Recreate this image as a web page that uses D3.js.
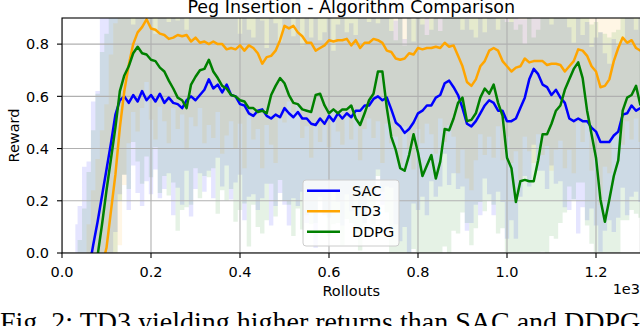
<!DOCTYPE html>
<html>
<head>
  <title>Peg Insertion - Algorithm Comparison</title>
  <script src="https://d3js.org/d3.v7.min.js"></script>
  <style>
    body { margin: 0; background: #fff; overflow: hidden; }
    svg { display: block; }
    .tick-label { font: 14.5px "DejaVu Sans", sans-serif; fill: #000; }
    .axis-label { font: 14.5px "DejaVu Sans", sans-serif; fill: #000; }
    .title { font: 17.5px "DejaVu Sans", sans-serif; fill: #000; }
    .caption { font: 28px "Liberation Serif", "Times New Roman", serif; fill: #000; }
  </style>
</head>
<body>
  <svg id="chart" width="640" height="326"></svg>

  <script>
    // rollouts at which the smoothed reward was sampled (every 10 rollouts)
    const rollouts = d3.range(30, 1301, 10);

    // mean reward per algorithm
    const sacMean = [
      -0.35,-0.26,-0.17,-0.07,0.03,0.12,0.22,0.32,0.42,0.53,
      0.585,0.60,0.575,0.605,0.58,0.62,0.585,0.605,0.58,0.61,
      0.575,0.595,0.575,0.57,0.555,0.585,0.60,0.585,0.605,0.625,
      0.665,0.63,0.645,0.615,0.645,0.605,0.60,0.57,0.565,0.535,
      0.525,0.545,0.55,0.525,0.515,0.53,0.52,0.555,0.535,0.52,
      0.54,0.515,0.515,0.495,0.49,0.515,0.495,0.525,0.505,0.535,
      0.515,0.535,0.52,0.545,0.545,0.565,0.565,0.59,0.60,0.585,
      0.595,0.55,0.50,0.485,0.46,0.475,0.50,0.535,0.545,0.565,
      0.565,0.595,0.605,0.65,0.66,0.635,0.605,0.555,0.495,0.485,
      0.505,0.535,0.565,0.585,0.575,0.545,0.545,0.505,0.505,0.515,
      0.555,0.595,0.665,0.705,0.685,0.645,0.635,0.605,0.625,0.595,
      0.575,0.515,0.505,0.515,0.505,0.505,0.48,0.465,0.425,0.425,
      0.425,0.45,0.465,0.53,0.535,0.565,0.545,0.555
    ];
    const td3Mean = [
      -0.55,-0.46,-0.38,-0.29,-0.20,-0.12,-0.05,0.02,0.16,0.30,
      0.48,0.62,0.72,0.80,0.845,0.865,0.895,0.86,0.855,0.84,
      0.835,0.82,0.825,0.835,0.83,0.835,0.81,0.825,0.805,0.81,
      0.80,0.81,0.80,0.80,0.78,0.785,0.78,0.795,0.775,0.795,
      0.785,0.765,0.725,0.75,0.755,0.775,0.815,0.87,0.86,0.87,
      0.845,0.83,0.805,0.805,0.775,0.785,0.795,0.815,0.81,0.815,
      0.815,0.82,0.795,0.815,0.785,0.805,0.805,0.82,0.815,0.805,
      0.775,0.77,0.745,0.74,0.745,0.765,0.76,0.785,0.78,0.785,
      0.785,0.79,0.785,0.805,0.79,0.795,0.755,0.715,0.655,0.64,
      0.665,0.715,0.735,0.775,0.785,0.775,0.735,0.715,0.695,0.71,
      0.715,0.745,0.73,0.735,0.735,0.735,0.72,0.725,0.725,0.72,
      0.695,0.715,0.735,0.78,0.775,0.755,0.715,0.695,0.635,0.64,
      0.665,0.735,0.785,0.825,0.805,0.815,0.785,0.775
    ];
    const ddpgMean = [
      -0.50,-0.40,-0.31,-0.21,-0.11,-0.01,0.11,0.24,0.36,0.48,
      0.62,0.68,0.715,0.765,0.79,0.765,0.76,0.74,0.735,0.71,
      0.695,0.66,0.63,0.595,0.585,0.555,0.645,0.675,0.70,0.705,
      0.74,0.695,0.67,0.64,0.63,0.605,0.60,0.585,0.58,0.555,
      0.555,0.54,0.545,0.535,0.605,0.64,0.67,0.65,0.605,0.575,
      0.57,0.55,0.545,0.54,0.605,0.61,0.565,0.535,0.55,0.535,
      0.55,0.55,0.565,0.515,0.49,0.535,0.585,0.61,0.695,0.695,
      0.555,0.445,0.395,0.325,0.315,0.375,0.455,0.385,0.295,0.335,
      0.375,0.285,0.35,0.475,0.47,0.515,0.575,0.595,0.505,0.51,
      0.535,0.595,0.63,0.61,0.645,0.575,0.525,0.365,0.325,0.195,
      0.275,0.28,0.275,0.275,0.355,0.455,0.455,0.495,0.545,0.565,
      0.625,0.665,0.705,0.73,0.67,0.545,0.455,0.365,0.205,0.12,
      0.205,0.295,0.355,0.545,0.595,0.605,0.64,0.565
    ];

    // spread (std) around each mean, estimated from the shaded bands
    const sacStd = [
      0.46,0.44,0.50,0.42,0.55,0.50,0.68,0.60,0.52,0.45,
      0.36,0.30,0.41,0.27,0.35,0.44,0.31,0.38,0.26,0.40,
      0.33,0.29,0.43,0.32,0.37,0.27,0.46,0.34,0.30,0.39,
      0.35,0.42,0.28,0.36,0.31,0.40,0.33,0.27,0.44,0.32,
      0.30,0.38,0.34,0.26,0.41,0.35,0.29,0.37,0.43,0.31,
      0.36,0.28,0.40,0.33,0.47,0.30,0.35,0.39,0.27,0.34,
      0.41,0.31,0.36,0.29,0.38,0.45,0.32,0.37,0.28,0.40,
      0.34,0.30,0.39,0.44,0.36,0.48,0.31,0.37,0.33,0.42,
      0.29,0.38,0.35,0.27,0.40,0.33,0.36,0.30,0.41,0.37,
      0.32,0.39,0.28,0.36,0.43,0.31,0.35,0.45,0.38,0.46,
      0.34,0.30,0.41,0.29,0.37,0.33,0.39,0.27,0.36,0.32,
      0.40,0.35,0.30,0.44,0.33,0.38,0.31,0.36,0.42,0.34,
      0.30,0.37,0.33,0.28,0.39,0.35,0.31,0.36
    ];
    const td3Std = [
      0.30,0.34,0.38,0.40,0.44,0.48,0.52,0.55,0.60,0.58,
      0.45,0.36,0.30,0.26,0.38,0.31,0.24,0.35,0.42,0.28,
      0.33,0.40,0.27,0.36,0.30,0.44,0.29,0.34,0.25,0.39,
      0.31,0.37,0.26,0.42,0.33,0.28,0.38,0.30,0.45,0.27,
      0.35,0.29,0.40,0.26,0.34,0.43,0.30,0.37,0.28,0.33,
      0.27,0.39,0.32,0.44,0.29,0.36,0.31,0.41,0.26,0.35,
      0.40,0.30,0.36,0.27,0.43,0.33,0.29,0.38,0.31,0.46,
      0.28,0.35,0.30,0.40,0.26,0.37,0.44,0.31,0.36,0.29,
      0.33,0.41,0.27,0.38,0.30,0.35,0.45,0.32,0.37,0.40,
      0.31,0.26,0.36,0.33,0.42,0.29,0.38,0.27,0.35,0.32,
      0.44,0.30,0.34,0.39,0.28,0.36,0.31,0.41,0.33,0.29,
      0.37,0.32,0.43,0.28,0.35,0.26,0.40,0.34,0.45,0.31,
      0.36,0.29,0.33,0.41,0.30,0.38,0.27,0.35
    ];
    const ddpgStd = [
      0.40,0.45,0.48,0.52,0.58,0.62,0.66,0.60,0.55,0.50,
      0.42,0.38,0.47,0.34,0.44,0.50,0.39,0.45,0.33,0.48,
      0.40,0.44,0.36,0.51,0.42,0.38,0.46,0.35,0.49,0.41,
      0.45,0.37,0.52,0.40,0.43,0.36,0.48,0.42,0.39,0.53,
      0.37,0.44,0.47,0.41,0.34,0.50,0.39,0.45,0.42,0.51,
      0.40,0.46,0.40,0.43,0.49,0.41,0.41,0.47,0.44,0.42,
      0.52,0.42,0.45,0.44,0.48,0.43,0.40,0.50,0.40,0.46,
      0.40,0.50,0.42,0.58,0.48,0.55,0.44,0.52,0.60,0.50,
      0.52,0.62,0.50,0.45,0.49,0.43,0.50,0.44,0.39,0.48,
      0.44,0.40,0.47,0.41,0.46,0.50,0.43,0.52,0.58,0.66,
      0.60,0.52,0.64,0.55,0.50,0.45,0.47,0.43,0.49,0.45,
      0.47,0.41,0.50,0.46,0.40,0.44,0.42,0.52,0.64,0.72,
      0.62,0.55,0.50,0.42,0.47,0.44,0.49,0.43
    ];

    const algorithms = ["SAC", "TD3", "DDPG"];
    const colors = ["blue", "orange", "green"];
    const xTicks = [0, 200, 400, 600, 800, 1000, 1200];
    const yTicks = [0.0, 0.2, 0.4, 0.6, 0.8];

    const svg = d3.select("#chart");
    const margin = { left: 62, right: 640.5, top: 18, bottom: 253 };

    const x = d3.scaleLinear().domain([0, 1300]).range([margin.left, margin.right]);
    const y = d3.scaleLinear().domain([0, 0.9]).range([margin.bottom, margin.top]);

    // clip everything to the axes box
    svg.append("clipPath").attr("id", "plot-clip")
      .append("rect")
      .attr("x", margin.left).attr("y", margin.top)
      .attr("width", margin.right - margin.left)
      .attr("height", margin.bottom - margin.top);

    const series = [
      { name: "SAC", mean: sacMean, std: sacStd },
      { name: "TD3", mean: td3Mean, std: td3Std },
      { name: "DDPG", mean: ddpgMean, std: ddpgStd }
    ];

    const plot = svg.append("g").attr("clip-path", "url(#plot-clip)");

    // shaded mean +/- std bands
    const band = d3.area()
      .curve(d3.curveStep)
      .x((d, i) => x(rollouts[i]))
      .y0(d => y(d[0] - d[1]))
      .y1(d => y(d[0] + d[1]));

    series.forEach((s, k) => {
      const pts = s.mean.map((m, i) => [m, s.std[i]]);
      plot.append("path")
        .attr("d", band(pts))
        .attr("fill", colors[k])
        .attr("fill-opacity", 0.1);
    });

    // grid lines
    plot.selectAll(".vgrid").data(xTicks).enter().append("line")
      .attr("x1", d => x(d)).attr("x2", d => x(d))
      .attr("y1", margin.top).attr("y2", margin.bottom)
      .attr("stroke", "#b0b0b0").attr("stroke-width", 1.1);
    plot.selectAll(".hgrid").data(yTicks).enter().append("line")
      .attr("x1", margin.left).attr("x2", margin.right)
      .attr("y1", d => y(d)).attr("y2", d => y(d))
      .attr("stroke", "#b0b0b0").attr("stroke-width", 1.1);

    // mean lines
    const line = d3.line()
      .x((d, i) => x(rollouts[i]))
      .y(d => y(d));

    series.forEach((s, k) => {
      plot.append("path")
        .attr("d", line(s.mean))
        .attr("fill", "none")
        .attr("stroke", colors[k])
        .attr("stroke-width", 2.5)
        .attr("stroke-linejoin", "round");
    });

    // axes box (right spine sits just off the canvas)
    svg.append("rect")
      .attr("x", margin.left).attr("y", margin.top)
      .attr("width", margin.right - margin.left)
      .attr("height", margin.bottom - margin.top)
      .attr("fill", "none").attr("stroke", "#000").attr("stroke-width", 1.1);

    // x ticks
    const xt = svg.selectAll(".xtick").data(xTicks).enter().append("g")
      .attr("transform", d => `translate(${x(d)},${margin.bottom})`);
    xt.append("line").attr("y2", 5).attr("stroke", "#000").attr("stroke-width", 1.1);
    xt.append("text").attr("class", "tick-label")
      .attr("y", 24).attr("text-anchor", "middle")
      .text(d => (d / 1000).toFixed(1));

    // y ticks
    const yt = svg.selectAll(".ytick").data(yTicks).enter().append("g")
      .attr("transform", d => `translate(${margin.left},${y(d)})`);
    yt.append("line").attr("x2", -5).attr("stroke", "#000").attr("stroke-width", 1.1);
    yt.append("text").attr("class", "tick-label")
      .attr("x", -13).attr("y", 5.2).attr("text-anchor", "end")
      .text(d => d.toFixed(1));

    // labels
    svg.append("text").attr("class", "title")
      .attr("x", (margin.left + margin.right) / 2).attr("y", 13)
      .attr("text-anchor", "middle")
      .text("Peg Insertion - Algorithm Comparison");
    svg.append("text").attr("class", "axis-label")
      .attr("x", (margin.left + margin.right) / 2).attr("y", 296)
      .attr("text-anchor", "middle").text("Rollouts");
    svg.append("text").attr("class", "axis-label")
      .attr("x", 640).attr("y", 294)
      .attr("text-anchor", "end").text("1e3");
    svg.append("text").attr("class", "axis-label")
      .attr("transform", `translate(19,${(margin.top + margin.bottom) / 2}) rotate(-90)`)
      .attr("text-anchor", "middle").text("Reward");

    // legend
    const legend = svg.append("g").attr("transform", "translate(303,180)");
    legend.append("rect")
      .attr("width", 96).attr("height", 66).attr("rx", 3)
      .attr("fill", "#fff").attr("fill-opacity", 0.8)
      .attr("stroke", "#cccccc").attr("stroke-width", 1);
    algorithms.forEach((name, i) => {
      const row = legend.append("g").attr("transform", `translate(0,${10.7 + i * 20.5})`);
      row.append("line").attr("x1", 4).attr("x2", 37)
        .attr("stroke", colors[i]).attr("stroke-width", 2.5);
      row.append("text").attr("class", "tick-label")
        .attr("x", 49).attr("y", 5.2).text(name);
    });

    // figure caption below the plot (cut off by the frame)
    svg.append("text").attr("class", "caption")
      .attr("x", 0).attr("y", 331)
      .text("Fig. 2: TD3 yielding higher returns than SAC and DDPG");
  </script>
</body>
</html>
